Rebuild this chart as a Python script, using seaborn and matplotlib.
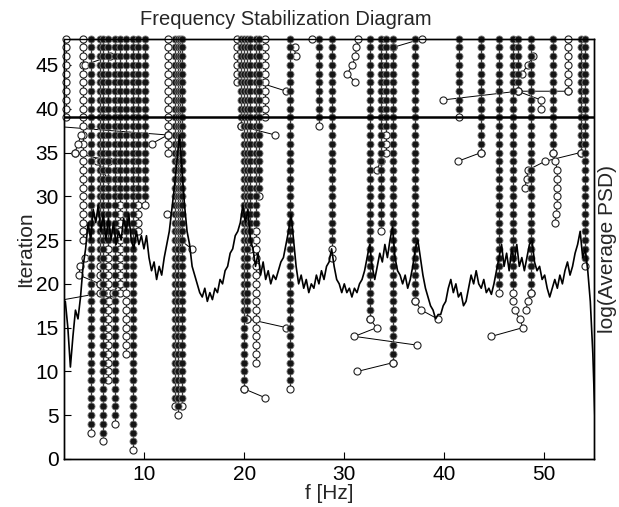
import numpy as np
import pandas as pd
import matplotlib
matplotlib.use("Agg")
import matplotlib.pyplot as plt
import seaborn as sns

# ---------------- data ----------------
# stabilisation columns: frequency, lowest stable (filled) iteration, lowest tracked (open) iteration
col_freq      = [2.17, 3.90, 4.64, 5.55, 5.90, 6.36, 7.07, 7.58, 8.14, 8.85, 9.41, 10.07,
                 12.35, 13.06, 13.42, 13.62, 13.77,
                 19.25, 19.66, 20.01, 20.32, 20.57, 21.18, 21.49, 22.10,
                 24.63, 27.48, 28.79, 32.55, 33.67, 34.17, 34.88, 37.12,
                 41.48, 43.72, 45.54, 46.86, 47.37, 48.69, 50.92, 52.44, 53.66, 54.12]
col_stable_lo = [49, 49, 4, 23, 3, 25, 5, 30, 20, 2, 30, 30,
                 49, 7, 6, 25, 7,
                 49, 39, 9, 17, 25, 27, 31, 49,
                 9, 39, 25, 17, 27, 38, 12, 19,
                 40, 36, 20, 20, 43, 20, 36, 49, 36, 23]
col_track_lo  = [39, 25, 3, 19, 2, 9, 4, 19, 12, 1, 26, 29,
                 35, 6, 5, 24, 6,
                 43, 38, 8, 16, 24, 11, 30, 39,
                 8, 38, 23, 16, 26, 35, 11, 18,
                 39, 35, 19, 18, 42, 19, 35, 42, 35, 22]

# unstable pole tracks (frequency, iteration)
chain_f = [
    [1.0, 12.35], [1.0, 5.90], [4.03, 6.57], [3.06, 6.52], [3.06, 3.37, 3.67],
    [5.25, 5.75, 6.36], [4.03, 3.57, 3.47, 5.55], [6.46, 6.87, 7.58], [10.73, 12.35],
    [12.25], [13.62, 14.74], [21.49, 24.23], [19.66, 23.11], [20.32, 24.23],
    [20.01, 22.10], [25.04, 25.14], [26.76], [31.43, 31.23, 31.13, 30.82, 30.32, 31.13],
    [34.88, 37.83], [33.26, 33.67], [32.55, 33.26, 31.03, 37.32], [31.33, 34.88],
    [37.12, 37.73, 39.35], [39.86, 47.37, 52.44], [41.38, 43.72], [47.78, 48.38, 48.89],
    [47.37, 49.70, 49.70], [48.08, 48.28, 48.38, 50.11, 53.66],
    [50.92, 51.12, 51.33, 51.33, 51.33, 51.33, 51.33, 51.23, 51.12],
    [47.06, 47.57, 47.88, 44.73], [48.69, 48.38, 48.18],
]
chain_it = [
    [38, 37], [18, 19], [45, 46], [35, 34], [35, 36, 37],
    [34, 33, 32], [23, 22, 21, 20], [18, 19, 20], [36, 37],
    [28], [25, 24], [43, 42], [38, 37], [16, 15],
    [8, 7], [47, 46], [48], [48, 47, 46, 45, 44, 43],
    [47, 48], [33, 34], [16, 15, 14, 13], [10, 11],
    [18, 17, 16], [41, 42, 42], [34, 35], [44, 45, 46],
    [42, 41, 40], [31, 32, 33, 34, 35],
    [35, 34, 33, 32, 31, 30, 29, 28, 27],
    [17, 16, 15, 14], [19, 18, 17],
]

# averaged PSD (log scale, drawn in diagram units) on an even frequency grid
psd_f = np.linspace(2.1, 55.9, 213)
psd_log = [
    18, 15, 10.5, 14, 17, 16, 18.5, 22, 24, 27, 25, 28.5,
    27, 29, 26, 28, 25, 27.5, 25, 27, 24.5, 26, 25, 27.5,
    26, 28, 25, 24, 26, 24.5, 25.5, 24, 25.5, 23, 21.5, 22.5,
    20.5, 22, 21, 23, 24.5, 26, 28.5, 31, 34, 37, 33, 29,
    26, 24.5, 22, 21, 20, 19, 18.5, 19.5, 18, 19, 18.2, 19.5,
    19, 20.5, 20, 21.5, 22, 23.5, 24, 25.5, 26, 27, 29, 27,
    28.5, 25, 24, 22, 23.5, 21, 22.5, 20.5, 21.5, 20, 21, 20.5,
    21.5, 22.5, 23, 24.5, 26, 28, 25, 22, 20, 21, 19.5, 20.5,
    19, 20, 19.5, 21, 20, 21.5, 20.5, 22, 22.5, 24, 22, 20.5,
    20, 19, 20, 19, 19.5, 18.5, 19.5, 19, 20, 20.5, 21.5, 23,
    24.5, 22, 20.5, 22, 23.5, 22.5, 24.5, 23, 25, 26.5, 23, 21.5,
    21, 20, 21, 19.5, 20.5, 22, 24, 25, 23, 21, 19.5, 18.5,
    17.5, 17, 16, 16.5, 16.5, 17.5, 18, 19.5, 20.5, 19, 20, 18.5,
    19, 17.5, 18, 19.5, 21, 20, 21.5, 20, 19.5, 20.5, 19, 19.5,
    18.8, 20, 21.5, 23, 24.5, 22, 23.5, 21.5, 24, 22.5, 24.5, 22,
    23, 21.5, 23, 24.5, 25, 22.5, 21.5, 22, 20.5, 21, 19.5, 18.5,
    19.5, 20.5, 19.5, 21, 20, 21.5, 22.5, 21, 22, 23.5, 24.5, 26,
    23, 24, 21.5, 18, 12, 3, 1, 1, 1,
]

x_ticks = [10, 20, 30, 40, 50]
y_ticks = [0, 5, 10, 15, 20, 25, 30, 35, 40, 45]
x_lim = (2, 55)
y_lim = (0, 48)
limit_iter = 39

# ---------------- build point tables ----------------
rows = []
for f, slo, tlo in zip(col_freq, col_stable_lo, col_track_lo):
    for it in range(tlo, 49):
        rows.append({"f": f, "it": it, "stable": it >= slo, "track": f"c{f}"})
for k, (fs, its) in enumerate(zip(chain_f, chain_it)):
    for f, it in zip(fs, its):
        rows.append({"f": f, "it": it, "stable": False, "track": f"u{k}"})
pts = pd.DataFrame(rows)

# ---------------- plot ----------------
sns.set_style("white")
plt.rcParams["font.family"] = ["Liberation Sans", "DejaVu Sans"]

fig = plt.figure(figsize=(6.19, 5.07), dpi=100)
ax = fig.add_axes([0.1039, 0.0947, 0.8557, 0.829])

for name, g in pts.groupby("track", sort=False):
    sns.lineplot(data=g, x="f", y="it", sort=False, estimator=None,
                 color="black", lw=0.7, ax=ax, legend=False)

vis = pts[(pts.f >= x_lim[0]) & (pts.f <= x_lim[1])]
sns.scatterplot(data=vis[~vis.stable], x="f", y="it", s=26, marker="o",
                facecolor="white", edgecolor="#222222", linewidth=0.8,
                ax=ax, clip_on=False, zorder=3, legend=False)
sns.scatterplot(data=vis[vis.stable], x="f", y="it", s=26, marker="o",
                facecolor="#151515", edgecolor="#808080", linewidth=0.6,
                ax=ax, clip_on=False, zorder=4, legend=False)

ax.axhline(limit_iter, color="black", lw=1.8, zorder=5)

ax.set_xlim(*x_lim)
ax.set_ylim(*y_lim)
ax.set_xticks(x_ticks)
ax.set_yticks(y_ticks)
ax.tick_params(direction="in", length=5, width=0.8, bottom=True, left=True,
               top=False, right=False, labelsize=15, colors="black", pad=4)
ax.set_xlabel("f [Hz]", fontsize=15, labelpad=0)
ax.set_ylabel("Iteration", fontsize=15, labelpad=0)
ax.set_title("Frequency Stabilization Diagram", fontsize=14.5, pad=10, x=0.4185)

ax2 = ax.twinx()
sns.lineplot(x=psd_f, y=psd_log, ax=ax2, color="black", lw=1.2, legend=False)
ax2.set_xlim(*x_lim)
ax2.set_ylim(*y_lim)
ax2.set_yticks([])
ax2.set_ylabel("log(Average PSD)", fontsize=15, labelpad=3)

for a in (ax, ax2):
    for s in a.spines.values():
        s.set_color("black")
        s.set_linewidth(1.0)

fig.savefig("out.png", dpi=100)
